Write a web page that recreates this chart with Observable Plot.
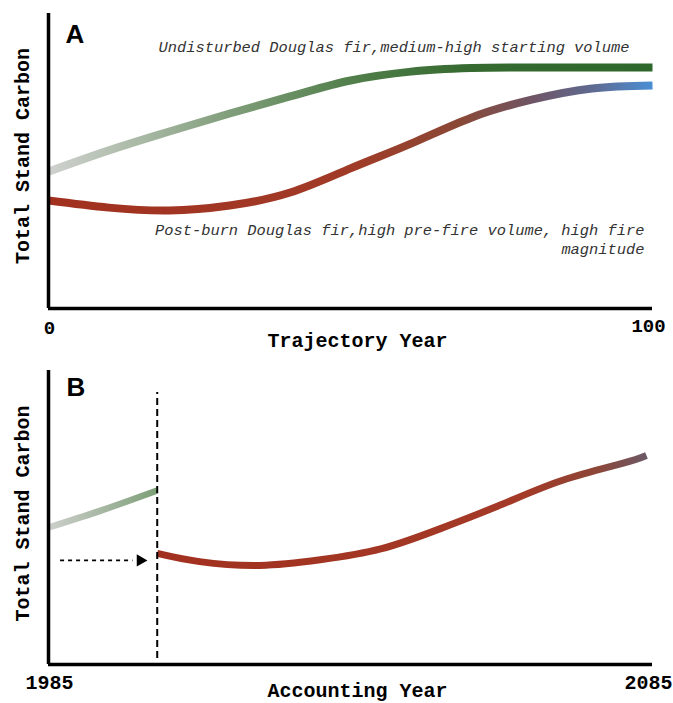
<!DOCTYPE html>
<html>
<head>
<meta charset="utf-8">
<script src="https://cdn.jsdelivr.net/npm/d3@7"></script>
<script src="https://cdn.jsdelivr.net/npm/@observablehq/plot@0.6"></script>
<style>
  html, body { margin: 0; padding: 0; background: #fff; }
  #chart svg { display: block; }
</style>
</head>
<body>
<div id="chart"></div>
<script>
// ---- Data ----
// Panel A: trajectory years
const trajYears = [0, 10, 20, 30, 40, 50, 60, 70, 80, 90, 100];
const undisturbedA = [46.4, 53.6, 60.0, 66.1, 71.9, 77.3, 80.3, 81.5, 81.7, 81.7, 81.7];
const postBurnA = [36.6, 34.2, 33.2, 34.9, 39.3, 47.5, 55.9, 64.7, 70.8, 74.6, 75.6];
const trajTicks = [0, 100];

// Panel B: accounting years
const acctYearsGreen = [1985, 1994, 2003];
const undisturbedB = [46.6, 52.6, 59.2];
const acctYearsRed = [2003, 2010, 2020, 2030, 2040, 2050, 2060, 2070, 2080, 2084];
const postBurnB = [37.8, 35.0, 33.7, 35.6, 39.3, 46.3, 54.4, 62.6, 68.4, 71.1];
const acctTicks = [1985, 2085];
const fireYear = [2003];
const fireLineExtent = [2, 92.5];
const transferArrowX = [1987, 2000.2];
const transferArrowY = [35.4];

const labelsA = {
  letter: "A",
  x: "Trajectory Year",
  y: "Total Stand Carbon",
  undisturbed: "Undisturbed Douglas fir,medium-high starting volume",
  postBurn: "Post-burn Douglas fir,high pre-fire volume, high fire\nmagnitude"
};
const labelsB = { letter: "B", x: "Accounting Year", y: "Total Stand Carbon" };

// ---- helpers ----
const mono = "'Liberation Mono', 'Courier New', monospace";
const sans = "'Liberation Sans', Arial, sans-serif";
const zip = (xs, ys) => xs.map((x, i) => ({x, y: ys[i]}));

function addGradient(svg, id, stops) {
  let defs = d3.select(svg).select("defs");
  if (defs.empty()) defs = d3.select(svg).insert("defs", ":first-child");
  const g = defs.append("linearGradient")
    .attr("id", id).attr("x1", "0").attr("x2", "1").attr("y1", "0").attr("y2", "0");
  stops.forEach(([o, c]) => g.append("stop").attr("offset", o).attr("stop-color", c));
}

const common = {
  width: 673,
  marginLeft: 48,
  marginRight: 21,
  y: {domain: [0, 100], axis: null},
  style: {fontFamily: mono, fontWeight: "bold", fontSize: "20px", background: "#fff", color: "#000", overflow: "visible"}
};

// ---- Panel A ----
const plotA = Plot.plot({
  ...common,
  height: 355,
  marginTop: 13,
  marginBottom: 47,
  x: {domain: [trajYears[0], trajYears[trajYears.length - 1]], axis: null},
  marks: [
    Plot.line(zip(trajYears, undisturbedA), {x: "x", y: "y", stroke: "url(#gradGreenA)", strokeWidth: 8, curve: "catmull-rom", strokeLinecap: "butt"}),
    Plot.line(zip(trajYears, postBurnA), {x: "x", y: "y", stroke: "url(#gradRedA)", strokeWidth: 8, curve: "natural", strokeLinecap: "butt"}),
    Plot.ruleX([trajTicks[0]], {stroke: "#000", strokeWidth: 3.5}),
    Plot.ruleY([0], {stroke: "#000", strokeWidth: 3.5}),
    Plot.text([trajTicks[0]], {x: d => d, frameAnchor: "bottom", lineAnchor: "middle", textAnchor: "middle", dx: 1, dy: 19, text: d => String(d), fontSize: 19}),
    Plot.text([trajTicks[1]], {x: d => d, frameAnchor: "bottom", lineAnchor: "middle", textAnchor: "middle", dx: -4, dy: 17, text: d => String(d), fontSize: 19}),
    Plot.text([labelsA.x], {frameAnchor: "bottom", lineAnchor: "middle", textAnchor: "middle", dx: 7, dy: 32, fontSize: 20}),
    Plot.text([labelsA.y], {frameAnchor: "left", lineAnchor: "middle", textAnchor: "middle", rotate: -90, dx: -26, dy: -5, fontSize: 20}),
    Plot.text([labelsA.letter], {frameAnchor: "top-left", textAnchor: "start", lineAnchor: "middle", dx: 17, dy: 21, fontFamily: sans, fontWeight: "bold", fontSize: 26}),
    Plot.text([labelsA.undisturbed], {frameAnchor: "top-left", textAnchor: "start", lineAnchor: "middle", dx: 110, dy: 34, fontFamily: mono, fontWeight: "normal", fontStyle: "italic", fontSize: 15.4, fill: "#333"}),
    Plot.text([labelsA.postBurn], {frameAnchor: "top-right", textAnchor: "end", lineAnchor: "middle", dx: -8, dy: 224.5, lineHeight: 1.23, fontFamily: mono, fontWeight: "normal", fontStyle: "italic", fontSize: 15.4, fill: "#333"})
  ]
});
addGradient(plotA, "gradGreenA", [[0, "#cfd1ce"], [0.15, "#a9b9a5"], [0.32, "#7b9a75"], [0.5, "#527f4b"], [0.7, "#35692f"], [1, "#2e672c"]]);
addGradient(plotA, "gradRedA", [[0, "#a2301f"], [0.5, "#a03b27"], [0.68, "#8a4836"], [0.8, "#6f5565"], [0.9, "#5f6a90"], [1, "#4b8ed4"]]);

// ---- Panel B ----
const plotB = Plot.plot({
  ...common,
  height: 348,
  marginTop: 15,
  marginBottom: 39,
  x: {domain: [acctTicks[0], acctTicks[1]], axis: null},
  marks: [
    Plot.line(zip(acctYearsGreen, undisturbedB), {x: "x", y: "y", stroke: "url(#gradGreenB)", strokeWidth: 6.5, curve: "catmull-rom", strokeLinecap: "butt"}),
    Plot.line(zip(acctYearsRed, postBurnB), {x: "x", y: "y", stroke: "url(#gradRedB)", strokeWidth: 7, curve: "natural", strokeLinecap: "butt"}),
    Plot.ruleX(fireYear, {y1: fireLineExtent[0], y2: fireLineExtent[1], stroke: "#000", strokeWidth: 2, strokeDasharray: "7,4"}),
    Plot.ruleY(transferArrowY, {x1: transferArrowX[0], x2: transferArrowX[1] - 1.2, stroke: "#000", strokeWidth: 1.8, strokeDasharray: "4,4"}),
    Plot.dot(transferArrowY, {x: transferArrowX[1], y: d => d, symbol: "triangle", rotate: 90, r: 4.6, fill: "#000", stroke: "none"}),
    Plot.ruleX([acctTicks[0]], {stroke: "#000", strokeWidth: 3.5}),
    Plot.ruleY([0], {stroke: "#000", strokeWidth: 3.5}),
    Plot.text([acctTicks[0]], {x: d => d, frameAnchor: "bottom", lineAnchor: "middle", textAnchor: "middle", dx: 1, dy: 18, text: d => String(d), fontSize: 20}),
    Plot.text([acctTicks[1]], {x: d => d, frameAnchor: "bottom", lineAnchor: "middle", textAnchor: "middle", dx: -4, dy: 18, text: d => String(d), fontSize: 20}),
    Plot.text([labelsB.x], {frameAnchor: "bottom", lineAnchor: "middle", textAnchor: "middle", dx: 7, dy: 26, fontSize: 20}),
    Plot.text([labelsB.y], {frameAnchor: "left", lineAnchor: "middle", textAnchor: "middle", rotate: -90, dx: -26, dy: -4, fontSize: 20}),
    Plot.text([labelsB.letter], {frameAnchor: "top-left", textAnchor: "start", lineAnchor: "middle", dx: 18, dy: 17, fontFamily: sans, fontWeight: "bold", fontSize: 26})
  ]
});
addGradient(plotB, "gradGreenB", [[0, "#cdd0cc"], [0.5, "#a6b7a2"], [1, "#7c9f76"]]);
addGradient(plotB, "gradRedB", [[0, "#a2301f"], [0.75, "#a33a27"], [0.9, "#8c4638"], [1, "#6c5866"]]);

const root = document.getElementById("chart");
root.appendChild(plotA);
root.appendChild(plotB);
</script>
</body>
</html>
